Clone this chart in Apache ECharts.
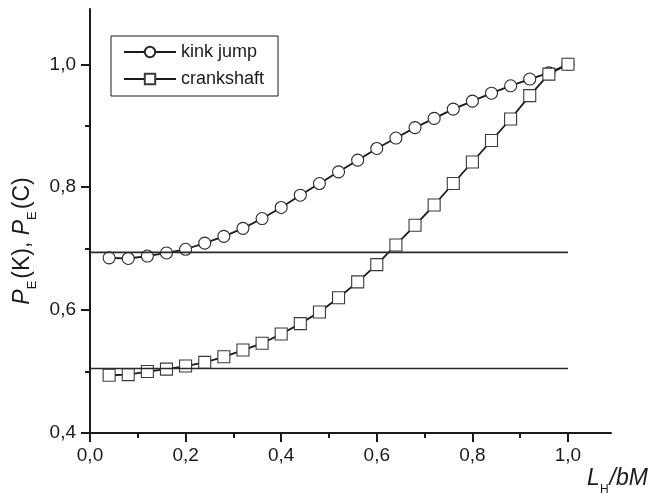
<!DOCTYPE html>
<html>
<head>
<meta charset="utf-8">
<script src="https://cdn.jsdelivr.net/npm/echarts@6/dist/echarts.min.js"></script>
<style>
  html, body { margin: 0; padding: 0; background: #fff; }
  #chart { width: 650px; height: 494px; }
</style>
</head>
<body>
<div id="chart"></div>
<script>
// L_H/bM values, one point every 0.04
const xValues = [0.04, 0.08, 0.12, 0.16, 0.20, 0.24, 0.28, 0.32, 0.36, 0.40,
  0.44, 0.48, 0.52, 0.56, 0.60, 0.64, 0.68, 0.72, 0.76, 0.80,
  0.84, 0.88, 0.92, 0.96, 1.00];

// P_E(K) — kink jump
const kinkJump = [0.685, 0.684, 0.688, 0.693, 0.699, 0.709, 0.720, 0.733, 0.749, 0.767,
  0.787, 0.806, 0.825, 0.844, 0.863, 0.880, 0.897, 0.912, 0.927, 0.940,
  0.953, 0.965, 0.976, 0.986, 1.000];

// P_E(C) — crankshaft
const crankshaft = [0.494, 0.495, 0.500, 0.504, 0.509, 0.515, 0.524, 0.535, 0.546, 0.561,
  0.578, 0.597, 0.620, 0.646, 0.674, 0.706, 0.738, 0.771, 0.806, 0.841,
  0.876, 0.911, 0.949, 0.984, 1.000];

// horizontal reference levels
const refX = [0, 1.0];
const kinkLevel = 0.694;
const crankLevel = 0.505;

// ticks
const xMajorTicks = [0, 0.2, 0.4, 0.6, 0.8, 1.0];
const xMinorTicks = [0.1, 0.3, 0.5, 0.7, 0.9];
const yMajorTicks = [0.4, 0.6, 0.8, 1.0];
const yMinorTicks = [0.5, 0.7, 0.9];

const FONT = '"Liberation Sans", Arial, sans-serif';
const INK = '#1a1a1a';

function fmt(v) { return v.toFixed(1).replace('.', ','); }
function pairs(xs, ys) { return xs.map(function (x, i) { return [x, ys[i]]; }); }

const chart = echarts.init(document.getElementById('chart'), null, { renderer: 'canvas' });

const axisBase = {
  type: 'value',
  splitLine: { show: false },
  axisLine: { show: true, onZero: false, lineStyle: { color: INK, width: 2 } }
};

chart.setOption({
  animation: false,
  backgroundColor: '#fff',
  grid: { left: 90, right: 39, top: 9, bottom: 61, outerBoundsMode: 'none' },
  legend: {
    orient: 'vertical',
    left: 111, top: 36,
    data: ['kink jump', 'crankshaft'],
    itemWidth: 52, itemHeight: 13, itemGap: 9,
    padding: [7, 14, 8, 12],
    borderColor: INK, borderWidth: 1, borderRadius: 0,
    textStyle: { fontFamily: FONT, fontSize: 18, color: INK }
  },
  xAxis: [
    Object.assign({}, axisBase, {
      position: 'bottom',
      min: 0, max: 1.09,
      axisTick: { show: true, length: 9, lineStyle: { color: INK, width: 2 }, customValues: xMajorTicks },
      axisLabel: { fontFamily: FONT, fontSize: 19, color: INK, margin: 13, customValues: xMajorTicks, formatter: fmt },
      name: '{i|L}{s|H}{i|/bM}',
      nameLocation: 'end', nameGap: 36,
      nameTextStyle: {
        align: 'right', verticalAlign: 'top', padding: [28, 0, 0, 0],
        rich: {
          i: { fontFamily: FONT, fontSize: 23, fontStyle: 'italic', color: INK, lineHeight: 36 },
          s: { fontFamily: FONT, fontSize: 12, color: INK, lineHeight: 14, padding: [22, 1, 0, 0] }
        }
      }
    }),
    Object.assign({}, axisBase, {
      position: 'bottom', offset: 0,
      min: 0, max: 1.09,
      axisLine: { show: false },
      axisTick: { show: true, length: 5, lineStyle: { color: INK, width: 2 }, customValues: xMinorTicks },
      axisLabel: { show: false }
    })
  ],
  yAxis: [
    Object.assign({}, axisBase, {
      position: 'left',
      min: 0.4, max: 1.09,
      axisTick: { show: true, length: 9, lineStyle: { color: INK, width: 2 }, customValues: yMajorTicks },
      axisLabel: { fontFamily: FONT, fontSize: 19, color: INK, margin: 14, customValues: yMajorTicks, formatter: fmt },
      name: '{i|P}{s|E}{n|(K), }{i|P}{s|E}{n|(C)}',
      nameLocation: 'middle', nameRotate: 90, nameGap: 44,
      nameTextStyle: {
        padding: [0, 40, 0, 0],
        rich: {
          i: { fontFamily: FONT, fontSize: 23, fontStyle: 'italic', color: INK, lineHeight: 34 },
          n: { fontFamily: FONT, fontSize: 23, color: INK, lineHeight: 34 },
          s: { fontFamily: FONT, fontSize: 13, color: INK, lineHeight: 14, padding: [20, 2, 0, 0] }
        }
      }
    }),
    Object.assign({}, axisBase, {
      position: 'left', offset: 0,
      min: 0.4, max: 1.09,
      axisLine: { show: false },
      axisTick: { show: true, length: 5, lineStyle: { color: INK, width: 2 }, customValues: yMinorTicks },
      axisLabel: { show: false }
    })
  ],
  series: [
    {
      name: 'kink jump',
      type: 'line',
      data: pairs(xValues, kinkJump),
      symbol: 'circle', symbolSize: 12,
      lineStyle: { color: INK, width: 1.8 },
      itemStyle: { color: '#fff', borderColor: '#2a2a2a', borderWidth: 1.1 },
      z: 3
    },
    {
      name: 'crankshaft',
      type: 'line',
      data: pairs(xValues, crankshaft),
      symbol: 'rect', symbolSize: 12,
      lineStyle: { color: INK, width: 1.8 },
      itemStyle: { color: '#fff', borderColor: '#3a3a3a', borderWidth: 1.1 },
      z: 3
    },
    {
      name: 'kink level',
      type: 'line',
      data: refX.map(function (x) { return [x, kinkLevel]; }),
      symbol: 'none',
      lineStyle: { color: '#2a2a2a', width: 1.6 },
      z: 4
    },
    {
      name: 'crank level',
      type: 'line',
      data: refX.map(function (x) { return [x, crankLevel]; }),
      symbol: 'none',
      lineStyle: { color: '#2a2a2a', width: 1.6 },
      z: 4
    }
  ]
});
</script>
</body>
</html>
